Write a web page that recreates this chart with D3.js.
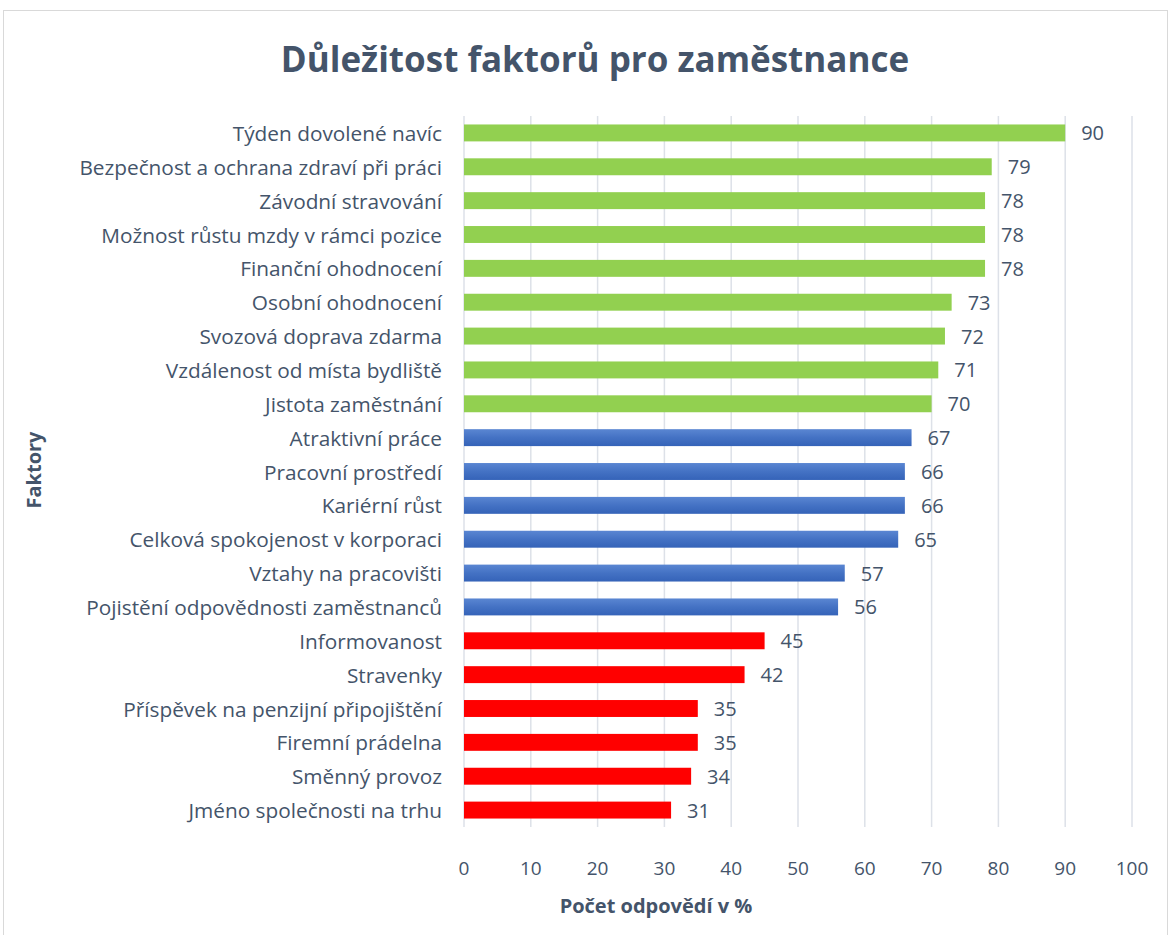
<!DOCTYPE html>
<html>
<head>
<meta charset="utf-8">
<script src="https://cdn.jsdelivr.net/npm/d3@7.9.0/dist/d3.min.js"></script>
<style>
  body { margin: 0; background: #fff; }
  text { font-family: "Open Sans", Lato, sans-serif; fill: #44546A; }
</style>
</head>
<body>
<div id="chart"></div>
<script>
const factors = [
  "Týden dovolené navíc",
  "Bezpečnost a ochrana zdraví při práci",
  "Závodní stravování",
  "Možnost růstu mzdy v rámci pozice",
  "Finanční ohodnocení",
  "Osobní ohodnocení",
  "Svozová doprava zdarma",
  "Vzdálenost od místa bydliště",
  "Jistota zaměstnání",
  "Atraktivní práce",
  "Pracovní prostředí",
  "Kariérní růst",
  "Celková spokojenost v korporaci",
  "Vztahy na pracovišti",
  "Pojistění odpovědnosti zaměstnanců",
  "Informovanost ",
  "Stravenky",
  "Příspěvek na penzijní připojištění",
  "Firemní prádelna",
  "Směnný provoz",
  "Jméno společnosti na trhu"
];
const percent = [90, 79, 78, 78, 78, 73, 72, 71, 70, 67, 66, 66, 65, 57, 56, 45, 42, 35, 35, 34, 31];
const group = ["high","high","high","high","high","high","high","high","high",
  "mid","mid","mid","mid","mid","mid",
  "low","low","low","low","low","low"];
const xTicks = [0, 10, 20, 30, 40, 50, 60, 70, 80, 90, 100];

const W = 1170, H = 935;
const plot = { left: 464, right: 1132, top: 116, bottom: 827 };

const svg = d3.select("#chart").append("svg")
  .attr("width", W).attr("height", H);

const defs = svg.append("defs");
const grad = defs.append("linearGradient")
  .attr("id", "blueGrad").attr("x1", 0).attr("x2", 0).attr("y1", 0).attr("y2", 1);
grad.append("stop").attr("offset", "0%").attr("stop-color", "#5A86D2");
grad.append("stop").attr("offset", "50%").attr("stop-color", "#4472C4");
grad.append("stop").attr("offset", "100%").attr("stop-color", "#3563B8");

const fills = { high: "#92D050", mid: "url(#blueGrad)", low: "#FF0000" };

// chart border
svg.append("rect")
  .attr("x", 3.5).attr("y", 10.5)
  .attr("width", W - 6).attr("height", H - 8)
  .attr("fill", "none").attr("stroke", "#D9D9D9");

const x = d3.scaleLinear().domain([0, 100]).range([plot.left, plot.right]);
const y = d3.scaleBand().domain(factors).range([plot.top, plot.bottom]).paddingInner(0.5).paddingOuter(0.25);

// gridlines
svg.append("g").selectAll("line")
  .data(xTicks)
  .join("line")
    .attr("x1", d => x(d)).attr("x2", d => x(d))
    .attr("y1", plot.top).attr("y2", plot.bottom)
    .attr("stroke", "#DDE1E8").attr("stroke-width", 1.5);

// x tick labels
svg.append("g").selectAll("text")
  .data(xTicks)
  .join("text")
    .attr("x", d => x(d)).attr("y", 868)
    .attr("text-anchor", "middle")
    .attr("dominant-baseline", "central")
    .style("font-size", "19px")
    .text(d => d);

// bars
svg.append("g").selectAll("rect")
  .data(factors)
  .join("rect")
    .attr("x", x(0))
    .attr("y", d => y(d))
    .attr("height", y.bandwidth())
    .attr("width", (d, i) => x(percent[i]) - x(0))
    .attr("fill", (d, i) => fills[group[i]]);

// value labels
svg.append("g").selectAll("text")
  .data(factors)
  .join("text")
    .attr("x", (d, i) => x(percent[i]) + 16)
    .attr("y", d => y(d) + y.bandwidth() / 2)
    .attr("dominant-baseline", "central")
    .style("font-size", "20px")
    .text((d, i) => percent[i]);

// category labels
svg.append("g").selectAll("text")
  .data(factors)
  .join("text")
    .attr("x", plot.left - 22)
    .attr("y", d => y(d) + y.bandwidth() / 2)
    .attr("text-anchor", "end")
    .attr("dominant-baseline", "central")
    .style("font-size", "20.8px")
    .text(d => d);

// title
svg.append("text")
  .attr("x", 595).attr("y", 58)
  .attr("text-anchor", "middle")
  .attr("dominant-baseline", "central")
  .style("font-size", "35px").style("font-weight", "bold")
  .text("Důležitost faktorů pro zaměstnance");

// axis titles
svg.append("text")
  .attr("x", 656).attr("y", 905)
  .attr("text-anchor", "middle")
  .attr("dominant-baseline", "central")
  .style("font-size", "20px").style("font-weight", "bold")
  .text("Počet odpovědí v %");

svg.append("text")
  .attr("transform", "translate(33,470) rotate(-90)")
  .attr("text-anchor", "middle")
  .attr("dominant-baseline", "central")
  .style("font-size", "20px").style("font-weight", "bold")
  .text("Faktory");
</script>
</body>
</html>
